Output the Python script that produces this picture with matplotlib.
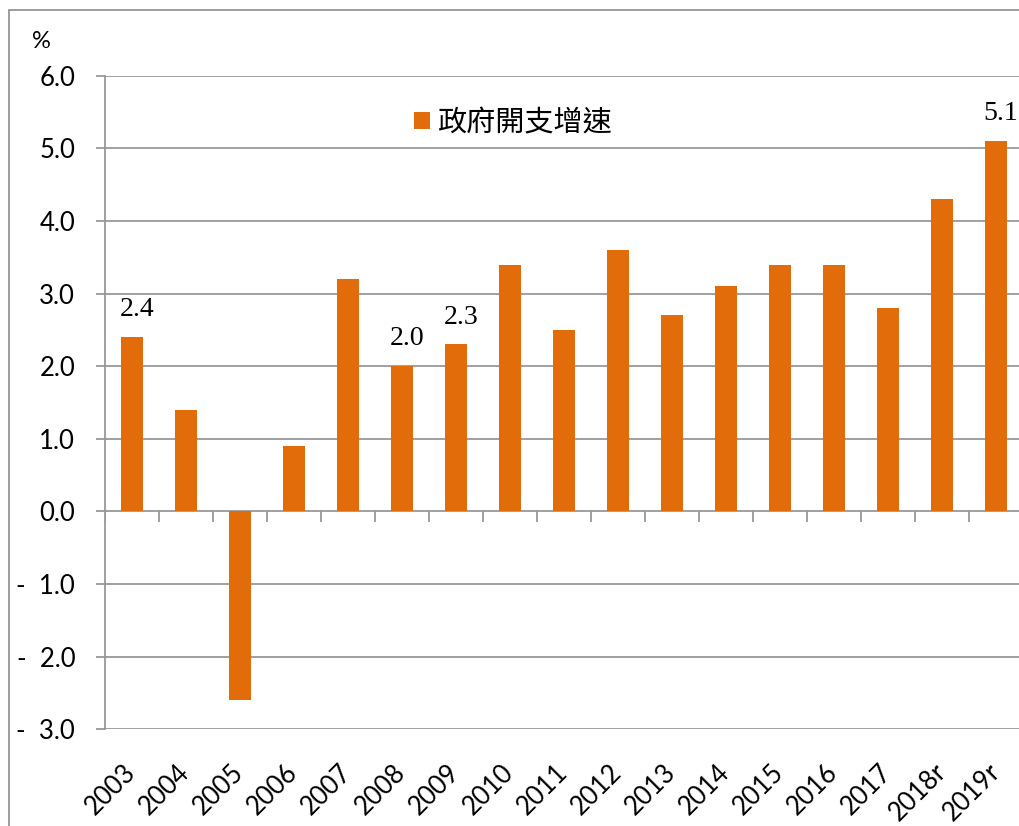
import matplotlib
matplotlib.use("Agg")
import matplotlib.pyplot as plt
from matplotlib.patches import Rectangle, Patch
import numpy as np

categories = ["2003", "2004", "2005", "2006", "2007", "2008", "2009", "2010", "2011",
              "2012", "2013", "2014", "2015", "2016", "2017", "2018r", "2019r"]
values = [2.4, 1.4, -2.6, 0.9, 3.2, 2.0, 2.3, 3.4, 2.5, 3.6, 2.7, 3.1, 3.4, 3.4, 2.8, 4.3, 5.1]
labeled = ["2003", "2008", "2009", "2019r"]
yticks = [-3, -2, -1, 0, 1, 2, 3, 4, 5, 6]
series_name = "政府開支增速"

BAR = "#E36C0A"
GRID = "#989898"

W, H = 1019, 826
fig = plt.figure(figsize=(W / 100, H / 100), dpi=100)

# outer chart border
fig.patches.append(Rectangle((9 / W, -0.1), 1.2, 1 - 10 / H + 0.1, transform=fig.transFigure,
                             fill=False, edgecolor="#8c8c8c", linewidth=1.2))

left, right, top, bottom = 105, 1023, 75.7, 729.3
ax = fig.add_axes([left / W, 1 - bottom / H, (right - left) / W, (bottom - top) / H])

x = np.arange(len(categories))
ax.bar(x, values, width=0.41, color=BAR, zorder=3)

ax.set_xlim(-0.5, len(categories) - 0.5)
ax.set_ylim(min(yticks), max(yticks))

for s in ["top", "right", "bottom"]:
    ax.spines[s].set_visible(False)
ax.spines["left"].set_color(GRID)
ax.spines["left"].set_linewidth(1.3)

ax.set_yticks(yticks)
ax.set_yticklabels([f"{v:.1f}" if v >= 0 else f"-  {abs(v):.1f}" for v in yticks],
                   fontfamily="Lato", fontsize=18.5)
ax.tick_params(axis="y", length=6.5, width=1.3, color=GRID, pad=15)
ax.yaxis.grid(True, color=GRID, linewidth=1.3, zorder=1)
ax.set_axisbelow(True)

# category boundary ticks along zero line
ax.vlines(np.arange(len(categories) + 1) - 0.5, -0.15, 0, color=GRID, linewidth=1.3, zorder=2)

ax.set_xticks(x)
ax.set_xticklabels(categories, fontfamily="Lato", fontsize=18.5, rotation=45,
                   ha="right", va="center", rotation_mode="anchor")
ax.tick_params(axis="x", length=0, pad=28)

for i, (c, v) in enumerate(zip(categories, values)):
    if c in labeled:
        ax.annotate(f"{v:.1f}", (i, v), xytext=(3.5, 15), textcoords="offset points",
                    ha="center", va="baseline", fontfamily="Liberation Serif", fontsize=20)

fig.text(32 / W, 1 - 48 / H, "%", fontfamily="Lato", fontsize=17, ha="left", va="baseline")

handle = Patch(facecolor=BAR, edgecolor="none")
fig.legend([handle], [series_name], loc="center left",
           bbox_to_anchor=(414 / W, 1 - 123 / H), frameon=False,
           prop={"family": ["Noto Sans CJK TC", "DejaVu Sans"], "size": 21},
           handlelength=0.55, handleheight=0.55, handletextpad=0.25, borderaxespad=0,
           borderpad=0)

fig.savefig("out.png", dpi=100, facecolor="white")
